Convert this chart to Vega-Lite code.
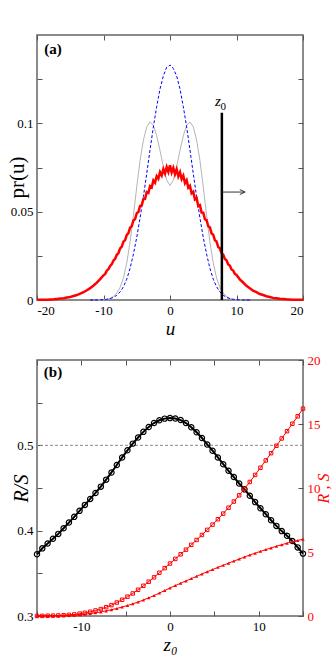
{
  "$schema": "https://vega.github.io/schema/vega-lite/v6.json",
  "padding": {"left": 5, "top": 33, "right": 0, "bottom": 0},
  "spacing": 14,
  "config": {
    "view": {"stroke": "#666666", "strokeWidth": 1.5},
    "font": "Liberation Serif",
    "axis": {
      "domain": false, "grid": false, "ticks": true, "tickSize": -5, "tickColor": "#555555", "tickWidth": 1,
      "labelFont": "Liberation Serif", "labelFontSize": 13, "labelColor": "black", "labelPadding": 9,
      "titleFont": "Liberation Serif", "titleFontWeight": "normal", "titleColor": "black"
    }
  },
  "datasets": {
    "red": [
      {"u": -20, "p": 0.0001}, {"u": -19.5, "p": 0.0001}, {"u": -19, "p": 0.0002}, {"u": -18.5, "p": 0.0002},
      {"u": -18, "p": 0.0003}, {"u": -17.5, "p": 0.0004}, {"u": -17, "p": 0.0006}, {"u": -16.5, "p": 0.0008},
      {"u": -16, "p": 0.0010}, {"u": -15.5, "p": 0.0014}, {"u": -15, "p": 0.0017}, {"u": -14.5, "p": 0.0023},
      {"u": -14, "p": 0.0028}, {"u": -13.5, "p": 0.0036}, {"u": -13, "p": 0.0044}, {"u": -12.5, "p": 0.0055},
      {"u": -12, "p": 0.0067}, {"u": -11.5, "p": 0.0082}, {"u": -11, "p": 0.0098}, {"u": -10.5, "p": 0.0118},
      {"u": -10, "p": 0.0140}, {"u": -9.75, "p": 0.0148}, {"u": -9.5, "p": 0.0166}, {"u": -9.25, "p": 0.0175},
      {"u": -9, "p": 0.0193}, {"u": -8.75, "p": 0.0203}, {"u": -8.5, "p": 0.0224}, {"u": -8.25, "p": 0.0233},
      {"u": -8, "p": 0.0256}, {"u": -7.75, "p": 0.0266}, {"u": -7.5, "p": 0.0292}, {"u": -7.25, "p": 0.0302},
      {"u": -7, "p": 0.0330}, {"u": -6.75, "p": 0.0339}, {"u": -6.5, "p": 0.0368}, {"u": -6.25, "p": 0.0378},
      {"u": -6, "p": 0.0409}, {"u": -5.75, "p": 0.0418}, {"u": -5.5, "p": 0.0450}, {"u": -5.25, "p": 0.0458},
      {"u": -5, "p": 0.0491}, {"u": -4.75, "p": 0.0498}, {"u": -4.5, "p": 0.0532}, {"u": -4.25, "p": 0.0536},
      {"u": -4, "p": 0.0572}, {"u": -3.75, "p": 0.0573}, {"u": -3.5, "p": 0.0611}, {"u": -3.25, "p": 0.0606},
      {"u": -3, "p": 0.0645}, {"u": -2.75, "p": 0.0638}, {"u": -2.5, "p": 0.0677}, {"u": -2.25, "p": 0.0664},
      {"u": -2, "p": 0.0701}, {"u": -1.75, "p": 0.0687}, {"u": -1.5, "p": 0.0724}, {"u": -1.25, "p": 0.0705},
      {"u": -1, "p": 0.0741}, {"u": -0.75, "p": 0.0716}, {"u": -0.5, "p": 0.0752}, {"u": -0.25, "p": 0.0725},
      {"u": 0, "p": 0.0762}, {"u": 0.25, "p": 0.0722}, {"u": 0.5, "p": 0.0748}, {"u": 0.75, "p": 0.0712},
      {"u": 1, "p": 0.0740}, {"u": 1.25, "p": 0.0700}, {"u": 1.5, "p": 0.0724}, {"u": 1.75, "p": 0.0684},
      {"u": 2, "p": 0.0703}, {"u": 2.25, "p": 0.0662}, {"u": 2.5, "p": 0.0678}, {"u": 2.75, "p": 0.0636},
      {"u": 3, "p": 0.0646}, {"u": 3.25, "p": 0.0604}, {"u": 3.5, "p": 0.0613}, {"u": 3.75, "p": 0.0569},
      {"u": 4, "p": 0.0577}, {"u": 4.25, "p": 0.0532}, {"u": 4.5, "p": 0.0537}, {"u": 4.75, "p": 0.0495},
      {"u": 5, "p": 0.0494}, {"u": 5.25, "p": 0.0457}, {"u": 5.5, "p": 0.0452}, {"u": 5.75, "p": 0.0417},
      {"u": 6, "p": 0.0411}, {"u": 6.25, "p": 0.0377}, {"u": 6.5, "p": 0.0370}, {"u": 6.75, "p": 0.0338},
      {"u": 7, "p": 0.0331}, {"u": 7.25, "p": 0.0300}, {"u": 7.5, "p": 0.0293}, {"u": 7.75, "p": 0.0265},
      {"u": 8, "p": 0.0258}, {"u": 8.25, "p": 0.0232}, {"u": 8.5, "p": 0.0225}, {"u": 8.75, "p": 0.0201},
      {"u": 9, "p": 0.0195}, {"u": 9.25, "p": 0.0173}, {"u": 9.5, "p": 0.0167}, {"u": 9.75, "p": 0.0148},
      {"u": 10, "p": 0.0142}, {"u": 10.5, "p": 0.0117}, {"u": 11, "p": 0.0099}, {"u": 11.5, "p": 0.0080},
      {"u": 12, "p": 0.0067}, {"u": 12.5, "p": 0.0053}, {"u": 13, "p": 0.0044}, {"u": 13.5, "p": 0.0034},
      {"u": 14, "p": 0.0028}, {"u": 14.5, "p": 0.0021}, {"u": 15, "p": 0.0017}, {"u": 15.5, "p": 0.0012},
      {"u": 16, "p": 0.0010}, {"u": 16.5, "p": 0.0007}, {"u": 17, "p": 0.0006}, {"u": 17.5, "p": 0.0004},
      {"u": 18, "p": 0.0003}, {"u": 18.5, "p": 0.0002}, {"u": 19, "p": 0.0002}, {"u": 19.5, "p": 0.0001},
      {"u": 20, "p": 0.0001}
    ],
    "blue": [
      {"u": -12, "p": 0}, {"u": -11, "p": 0}, {"u": -10, "p": 0.0002}, {"u": -9.5, "p": 0.0004},
      {"u": -9, "p": 0.0008}, {"u": -8.5, "p": 0.0015}, {"u": -8, "p": 0.0027}, {"u": -7.5, "p": 0.0046},
      {"u": -7, "p": 0.0075}, {"u": -6.5, "p": 0.0118}, {"u": -6, "p": 0.0180}, {"u": -5.5, "p": 0.0260},
      {"u": -5, "p": 0.0355}, {"u": -4.5, "p": 0.0465}, {"u": -4, "p": 0.0585}, {"u": -3.5, "p": 0.0715},
      {"u": -3, "p": 0.0850}, {"u": -2.5, "p": 0.0980}, {"u": -2, "p": 0.1095}, {"u": -1.5, "p": 0.1195},
      {"u": -1, "p": 0.1268}, {"u": -0.5, "p": 0.1318}, {"u": -0.25, "p": 0.1322}, {"u": 0, "p": 0.1330},
      {"u": 0.25, "p": 0.1324}, {"u": 0.5, "p": 0.1310}, {"u": 1, "p": 0.1268}, {"u": 1.5, "p": 0.1195},
      {"u": 2, "p": 0.1095}, {"u": 2.5, "p": 0.0980}, {"u": 3, "p": 0.0850}, {"u": 3.5, "p": 0.0715},
      {"u": 4, "p": 0.0585}, {"u": 4.5, "p": 0.0465}, {"u": 5, "p": 0.0355}, {"u": 5.5, "p": 0.0260},
      {"u": 6, "p": 0.0180}, {"u": 6.5, "p": 0.0118}, {"u": 7, "p": 0.0075}, {"u": 7.5, "p": 0.0046},
      {"u": 8, "p": 0.0027}, {"u": 8.5, "p": 0.0015}, {"u": 9, "p": 0.0008}, {"u": 9.5, "p": 0.0004},
      {"u": 10, "p": 0.0002}, {"u": 11, "p": 0}, {"u": 12, "p": 0}
    ],
    "gray": [
      {"u": -11, "p": 0}, {"u": -10, "p": 0.0001}, {"u": -9.5, "p": 0.0003}, {"u": -9, "p": 0.0009},
      {"u": -8.5, "p": 0.0020}, {"u": -8, "p": 0.0040}, {"u": -7.5, "p": 0.0072}, {"u": -7, "p": 0.0125},
      {"u": -6.5, "p": 0.0210}, {"u": -6, "p": 0.0330}, {"u": -5.5, "p": 0.0480}, {"u": -5, "p": 0.0640},
      {"u": -4.5, "p": 0.0790}, {"u": -4, "p": 0.0905}, {"u": -3.5, "p": 0.0980}, {"u": -3, "p": 0.1008},
      {"u": -2.5, "p": 0.0988}, {"u": -2, "p": 0.0930}, {"u": -1.5, "p": 0.0845}, {"u": -1, "p": 0.0755},
      {"u": -0.5, "p": 0.0678}, {"u": 0, "p": 0.0648}, {"u": 0.5, "p": 0.0678}, {"u": 1, "p": 0.0755},
      {"u": 1.5, "p": 0.0845}, {"u": 2, "p": 0.0930}, {"u": 2.5, "p": 0.0988}, {"u": 3, "p": 0.1008},
      {"u": 3.5, "p": 0.0980}, {"u": 4, "p": 0.0905}, {"u": 4.5, "p": 0.0790}, {"u": 5, "p": 0.0640},
      {"u": 5.5, "p": 0.0480}, {"u": 6, "p": 0.0330}, {"u": 6.5, "p": 0.0210}, {"u": 7, "p": 0.0125},
      {"u": 7.5, "p": 0.0072}, {"u": 8, "p": 0.0040}, {"u": 8.5, "p": 0.0020}, {"u": 9, "p": 0.0009},
      {"u": 9.5, "p": 0.0003}, {"u": 10, "p": 0.0001}, {"u": 11, "p": 0}
    ],
    "rs": [
      {"z": -15, "q": 0.3723, "R": 0.00, "S": 0.00}, {"z": -14.4, "q": 0.3793, "R": 0.01, "S": 0.00},
      {"z": -13.8, "q": 0.3849, "R": 0.02, "S": 0.01}, {"z": -13.2, "q": 0.3905, "R": 0.03, "S": 0.01},
      {"z": -12.6, "q": 0.3962, "R": 0.04, "S": 0.02}, {"z": -12, "q": 0.4028, "R": 0.06, "S": 0.03},
      {"z": -11.4, "q": 0.4095, "R": 0.09, "S": 0.05}, {"z": -10.8, "q": 0.4162, "R": 0.12, "S": 0.07},
      {"z": -10.2, "q": 0.4232, "R": 0.18, "S": 0.10}, {"z": -9.6, "q": 0.4302, "R": 0.25, "S": 0.14},
      {"z": -9, "q": 0.4372, "R": 0.33, "S": 0.19}, {"z": -8.4, "q": 0.4442, "R": 0.43, "S": 0.25},
      {"z": -7.8, "q": 0.4516, "R": 0.54, "S": 0.32}, {"z": -7.2, "q": 0.4598, "R": 0.69, "S": 0.40},
      {"z": -6.6, "q": 0.4682, "R": 0.85, "S": 0.49}, {"z": -6, "q": 0.4770, "R": 1.05, "S": 0.59},
      {"z": -5.4, "q": 0.4858, "R": 1.27, "S": 0.70}, {"z": -4.8, "q": 0.4942, "R": 1.51, "S": 0.82},
      {"z": -4.2, "q": 0.5020, "R": 1.76, "S": 0.95}, {"z": -3.6, "q": 0.5092, "R": 2.05, "S": 1.09},
      {"z": -3, "q": 0.5158, "R": 2.36, "S": 1.25}, {"z": -2.4, "q": 0.5215, "R": 2.68, "S": 1.42},
      {"z": -1.8, "q": 0.5261, "R": 3.02, "S": 1.60}, {"z": -1.2, "q": 0.5294, "R": 3.38, "S": 1.79},
      {"z": -0.6, "q": 0.5313, "R": 3.74, "S": 1.99}, {"z": 0, "q": 0.5319, "R": 4.10, "S": 2.19},
      {"z": 0.6, "q": 0.5315, "R": 4.46, "S": 2.38}, {"z": 1.2, "q": 0.5296, "R": 4.82, "S": 2.56},
      {"z": 1.8, "q": 0.5261, "R": 5.18, "S": 2.74}, {"z": 2.4, "q": 0.5212, "R": 5.56, "S": 2.92},
      {"z": 3, "q": 0.5153, "R": 5.94, "S": 3.10}, {"z": 3.6, "q": 0.5086, "R": 6.33, "S": 3.28},
      {"z": 4.2, "q": 0.5010, "R": 6.73, "S": 3.46}, {"z": 4.8, "q": 0.4937, "R": 7.14, "S": 3.63},
      {"z": 5.4, "q": 0.4858, "R": 7.56, "S": 3.80}, {"z": 6, "q": 0.4779, "R": 8.00, "S": 3.96},
      {"z": 6.6, "q": 0.4702, "R": 8.46, "S": 4.13}, {"z": 7.2, "q": 0.4628, "R": 8.94, "S": 4.29},
      {"z": 7.8, "q": 0.4553, "R": 9.43, "S": 4.45}, {"z": 8.4, "q": 0.4484, "R": 9.94, "S": 4.61},
      {"z": 9, "q": 0.4410, "R": 10.47, "S": 4.76}, {"z": 9.6, "q": 0.4335, "R": 11.02, "S": 4.91},
      {"z": 10.2, "q": 0.4263, "R": 11.58, "S": 5.05}, {"z": 10.8, "q": 0.4193, "R": 12.15, "S": 5.19},
      {"z": 11.4, "q": 0.4122, "R": 12.72, "S": 5.32}, {"z": 12, "q": 0.4056, "R": 13.30, "S": 5.45},
      {"z": 12.6, "q": 0.3995, "R": 13.87, "S": 5.57}, {"z": 13.2, "q": 0.3940, "R": 14.44, "S": 5.69},
      {"z": 13.8, "q": 0.3878, "R": 15.02, "S": 5.80}, {"z": 14.4, "q": 0.3804, "R": 15.60, "S": 5.90},
      {"z": 15, "q": 0.3731, "R": 16.20, "S": 6.00}
    ]
  },
  "vconcat": [
    {
      "width": 266, "height": 265,
      "layer": [
        {
          "layer": [
            {
              "data": {"name": "gray"},
              "mark": {"type": "line", "color": "#b4b4b4", "strokeWidth": 1},
              "encoding": {
                "x": {"field": "u", "type": "quantitative", "scale": {"domain": [-20, 20], "nice": false, "zero": false},
                  "axis": {"orient": "bottom", "values": [-20, -15, -10, -5, 0, 5, 10, 15, 20],
                    "labelExpr": "datum.value % 10 === 0 ? (datum.value < 0 ? '-' + abs(datum.value) : '' + datum.value) : ''",
                    "title": "u", "titleFontSize": 19, "titleFontStyle": "italic", "titleBaseline": "alphabetic", "titleY": 34}},
                "y": {"field": "p", "type": "quantitative", "scale": {"domain": [0, 0.15], "nice": false, "zero": false},
                  "axis": {"orient": "left", "values": [0, 0.025, 0.05, 0.075, 0.1, 0.125],
                    "labelExpr": "datum.value === 0 ? '0' : (datum.value === 0.05 ? '0.05' : (datum.value === 0.1 ? '0.1' : ''))",
                    "title": "pr(u)", "titleFontSize": 21, "titleBaseline": "alphabetic", "titleX": -14, "titleY": 142}}
              }
            },
            {
              "data": {"name": "blue"},
              "mark": {"type": "line", "color": "#0000ff", "strokeWidth": 1, "strokeDash": [3, 2]},
              "encoding": {
                "x": {"field": "u", "type": "quantitative"},
                "y": {"field": "p", "type": "quantitative"}
              }
            },
            {
              "data": {"name": "red"},
              "mark": {"type": "line", "color": "#ff0000", "strokeWidth": 2.5},
              "encoding": {
                "x": {"field": "u", "type": "quantitative"},
                "y": {"field": "p", "type": "quantitative"}
              }
            }
          ]
        },
        {
          "layer": [
            {
              "data": {"values": [{"u": 7.8, "p": 0, "p2": 0.106}]},
              "mark": {"type": "rule", "color": "black", "strokeWidth": 2.5},
              "encoding": {
                "x": {"field": "u", "type": "quantitative", "scale": {"domain": [-20, 20], "nice": false, "zero": false},
                  "axis": {"orient": "top", "values": [-20, -15, -10, -5, 0, 5, 10, 15, 20], "labels": false, "title": null}},
                "y": {"field": "p", "type": "quantitative", "scale": {"domain": [0, 0.15], "nice": false, "zero": false},
                  "axis": {"orient": "right", "values": [0, 0.025, 0.05, 0.075, 0.1, 0.125], "labels": false, "title": null}},
                "y2": {"field": "p2"}
              }
            },
            {
              "data": {"values": [{"u": 7.8, "u2": 11.2, "p": 0.0611}]},
              "mark": {"type": "rule", "color": "#333333", "strokeWidth": 1},
              "encoding": {
                "x": {"field": "u", "type": "quantitative"},
                "x2": {"field": "u2"},
                "y": {"field": "p", "type": "quantitative"}
              }
            },
            {
              "data": {"values": [{"u": 10.5, "p": 0.0625, "o": 1}, {"u": 11.3, "p": 0.0611, "o": 2}, {"u": 10.5, "p": 0.0597, "o": 3}]},
              "mark": {"type": "line", "color": "#333333", "strokeWidth": 1},
              "encoding": {
                "x": {"field": "u", "type": "quantitative"},
                "y": {"field": "p", "type": "quantitative"},
                "order": {"field": "o"}
              }
            },
            {
              "data": {"values": [{"u": 7.2, "p": 0.1128, "t": "z"}]},
              "mark": {"type": "text", "font": "Liberation Serif", "fontSize": 15, "fontStyle": "italic", "color": "black", "align": "center", "baseline": "middle"},
              "encoding": {
                "x": {"field": "u", "type": "quantitative"},
                "y": {"field": "p", "type": "quantitative"},
                "text": {"field": "t"}
              }
            },
            {
              "data": {"values": [{"u": 8.0, "p": 0.1092, "t": "0"}]},
              "mark": {"type": "text", "font": "Liberation Serif", "fontSize": 11, "color": "black", "align": "center", "baseline": "middle"},
              "encoding": {
                "x": {"field": "u", "type": "quantitative"},
                "y": {"field": "p", "type": "quantitative"},
                "text": {"field": "t"}
              }
            },
            {
              "data": {"values": [{"u": -17.6, "p": 0.142, "t": "(a)"}]},
              "mark": {"type": "text", "font": "Liberation Serif", "fontSize": 15, "fontWeight": "bold", "color": "black", "align": "center", "baseline": "middle"},
              "encoding": {
                "x": {"field": "u", "type": "quantitative"},
                "y": {"field": "p", "type": "quantitative"},
                "text": {"field": "t"}
              }
            }
          ]
        }
      ],
      "resolve": {"axis": {"x": "independent", "y": "independent"}}
    },
    {
      "width": 266, "height": 256,
      "layer": [
        {
          "layer": [
            {
              "data": {"values": [{"v": 0.5}]},
              "mark": {"type": "rule", "color": "#888888", "strokeWidth": 1, "strokeDash": [3, 2]},
              "encoding": {
                "y": {"field": "v", "type": "quantitative", "scale": {"domain": [0.3, 0.6], "nice": false, "zero": false},
                  "axis": {"orient": "left", "values": [0.3, 0.35, 0.4, 0.45, 0.5, 0.55],
                    "labelExpr": "datum.value === 0.3 ? '0.3' : (datum.value === 0.4 ? '0.4' : (datum.value === 0.5 ? '0.5' : ''))",
                    "title": "R/S", "titleFontSize": 20, "titleFontStyle": "italic", "titleBaseline": "alphabetic", "titleX": -10}}
              }
            },
            {
              "data": {"name": "rs"},
              "mark": {"type": "line", "color": "black", "strokeWidth": 2},
              "encoding": {
                "x": {"field": "z", "type": "quantitative", "scale": {"domain": [-15, 15], "nice": false, "zero": false},
                  "axis": {"orient": "bottom", "values": [-15, -10, -5, 0, 5, 10, 15],
                    "labelExpr": "datum.value % 10 === 0 ? (datum.value < 0 ? '-' + abs(datum.value) : '' + datum.value) : ''",
                    "title": "z₀", "titleFontSize": 19, "titleFontStyle": "italic", "titleBaseline": "alphabetic", "titleY": 34}},
                "y": {"field": "q", "type": "quantitative"}
              }
            },
            {
              "data": {"name": "rs"},
              "mark": {"type": "point", "shape": "circle", "filled": false, "color": "black", "size": 28, "strokeWidth": 1.2, "opacity": 1},
              "encoding": {
                "x": {"field": "z", "type": "quantitative"},
                "y": {"field": "q", "type": "quantitative"}
              }
            },
            {
              "data": {"values": [{"z": -13.2, "v": 0.586, "t": "(b)"}]},
              "mark": {"type": "text", "font": "Liberation Serif", "fontSize": 15, "fontWeight": "bold", "color": "black", "align": "center", "baseline": "middle"},
              "encoding": {
                "x": {"field": "z", "type": "quantitative"},
                "y": {"field": "v", "type": "quantitative"},
                "text": {"field": "t"}
              }
            }
          ]
        },
        {
          "layer": [
            {
              "data": {"name": "rs"},
              "mark": {"type": "line", "color": "#ff0000", "strokeWidth": 1},
              "encoding": {
                "x": {"field": "z", "type": "quantitative", "scale": {"domain": [-15, 15], "nice": false, "zero": false},
                  "axis": {"orient": "top", "values": [-15, -10, -5, 0, 5, 10, 15], "labels": false, "title": null}},
                "y": {"field": "R", "type": "quantitative", "scale": {"domain": [0, 20], "nice": false, "zero": false},
                  "axis": {"orient": "right", "values": [0, 2.5, 5, 7.5, 10, 12.5, 15, 17.5, 20],
                    "labelExpr": "datum.value % 5 === 0 ? '' + datum.value : ''", "labelColor": "#ff0000",
                    "title": "R , S", "titleColor": "#ff0000", "titleFontSize": 16, "titleFontStyle": "italic", "titleAngle": 270, "titleBaseline": "alphabetic", "titleX": 25}}
              }
            },
            {
              "data": {"name": "rs"},
              "mark": {"type": "point", "shape": "square", "filled": false, "color": "#ff0000", "size": 12, "strokeWidth": 1, "opacity": 1},
              "encoding": {
                "x": {"field": "z", "type": "quantitative"},
                "y": {"field": "R", "type": "quantitative"}
              }
            },
            {
              "data": {"name": "rs"},
              "mark": {"type": "line", "color": "#ff0000", "strokeWidth": 1},
              "encoding": {
                "x": {"field": "z", "type": "quantitative"},
                "y": {"field": "S", "type": "quantitative"}
              }
            },
            {
              "data": {"name": "rs"},
              "mark": {"type": "point", "shape": "triangle-up", "filled": true, "color": "#ff0000", "size": 12, "opacity": 1},
              "encoding": {
                "x": {"field": "z", "type": "quantitative"},
                "y": {"field": "S", "type": "quantitative"}
              }
            }
          ]
        }
      ],
      "resolve": {"scale": {"y": "independent"}, "axis": {"x": "independent", "y": "independent"}}
    }
  ]
}
